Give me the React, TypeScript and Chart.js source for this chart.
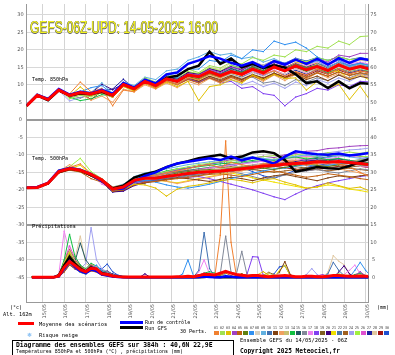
import React, { useEffect, useRef } from 'react';
import { Chart, registerables } from 'chart.js';
Chart.register(...registerables);

// ---------- time axis ----------
const HOURS_T = [0,12,24,36,48,60,72,84,96,108,120,132,144,156,168,180,192,204,216,228,240,252,264,276,288,300,312,324,336,348,360,372,384];
const HOURS_P = [6,12,18,24,30,36,42,48,54,60,66,72,78,84,90,96,102,108,114,120,126,132,138,144,150,156,162,168,174,180,186,192,198,204,210,216,222,228,234,240,246,252,258,264,270,276,282,288,294,300,306,312,318,324,330,336,342,348,354,360,366,372,378,384];
const DAY_HOURS = [18,42,66,90,114,138,162,186,210,234,258,282,306,330,354,378];
const DAY_LABELS = ['15/05','16/05','17/05','18/05','19/05','20/05','21/05','22/05','23/05','24/05','25/05','26/05','27/05','28/05','29/05','30/05'];
const LEFT_TICKS = [30,25,20,15,10,5,0,-5,-10,-15,-20,-25,-30,-35,-40,-45];
const RIGHT_TICKS = [75,70,65,60,55,50,45,40,35,30,25,20,15,10,5,0];

// ---------- 850 hPa ----------
const MEAN_850 = [4.0,7.0,5.8,8.5,7.0,7.8,7.4,8.3,7.0,10.1,8.9,11.0,9.8,11.7,11.0,12.8,12.3,13.8,12.6,13.8,13.0,14.5,13.4,15.1,14.0,15.4,14.3,15.2,14.1,15.7,14.5,15.2,14.4];
const CTRL_850 = [4.0,7.2,6.0,8.8,7.2,8.0,7.6,8.6,7.4,10.5,9.2,11.5,10.4,13.0,13.5,16.0,17.0,18.2,17.5,16.3,15.5,16.5,15.0,16.8,15.8,17.2,16.0,17.4,15.8,17.6,16.3,17.5,17.0];
const GFS_850 = [4.0,7.0,5.6,8.4,7.0,7.6,7.4,8.0,7.0,10.3,9.0,11.2,10.0,12.0,12.6,14.5,15.5,19.5,16.0,17.5,15.0,16.0,14.8,15.5,15.0,13.0,10.5,11.0,9.1,11.0,9.0,10.5,10.3];
const PERTS_850 = [
  [4.0,7.2,6.0,8.8,7.4,10.8,8.0,9.0,4.0,8.5,8.0,10.5,9.0,11.0,10.2,12.0,11.5,13.0,12.0,13.5,12.8,14.2,13.0,14.0,12.5,13.8,12.8,14.5,13.0,14.6,13.2,14.0,13.5],
  [4.1,7.3,6.2,8.9,6.0,7.0,6.6,7.8,7.3,10.6,9.4,12.0,10.8,13.0,12.5,14.5,13.5,15.5,14.8,16.5,16.0,17.8,17.0,18.5,18.0,20.0,19.5,21.0,20.5,22.5,21.5,23.8,24.0],
  [3.9,6.8,5.7,8.3,6.8,9.4,7.0,8.0,6.5,9.5,8.2,10.4,9.0,10.8,9.5,11.0,5.5,9.5,10.0,11.5,10.5,12.8,11.5,13.0,11.8,12.0,8.5,11.0,9.0,10.2,5.8,9.6,5.2],
  [4.0,7.1,5.9,8.6,7.1,7.9,7.5,8.5,7.2,10.3,9.0,11.2,10.0,12.0,11.3,13.2,12.8,14.4,13.5,15.0,14.5,16.0,15.0,16.5,15.5,17.0,16.2,17.5,16.5,18.5,18.0,19.0,19.0],
  [4.0,6.9,5.6,8.2,6.6,7.3,6.9,7.7,6.4,9.6,8.4,10.4,9.2,11.0,10.0,11.5,10.5,12.0,10.8,12.2,11.0,12.5,11.4,13.0,11.8,13.2,12.0,13.4,12.5,13.6,12.8,13.5,13.0],
  [4.1,7.0,5.7,8.4,6.9,7.6,7.2,8.1,6.8,10.0,8.8,10.8,9.6,11.4,10.8,12.4,11.6,13.2,12.2,14.0,13.5,15.2,14.0,15.8,14.8,16.0,15.0,15.5,14.2,15.8,14.6,15.0,14.2],
  [4.0,7.1,6.0,8.7,7.2,8.0,9.2,9.8,7.4,10.4,9.2,11.6,10.5,12.8,12.0,14.5,14.5,17.0,16.5,18.5,17.5,20.0,19.5,22.5,21.5,22.2,20.5,18.0,16.0,17.0,15.5,16.2,15.4],
  [4.0,6.9,5.8,8.4,6.9,7.6,7.2,8.2,6.9,9.9,8.7,10.7,9.5,11.3,10.5,12.2,11.5,12.8,11.8,13.0,12.0,13.6,12.4,14.0,13.0,14.5,13.5,14.8,13.8,15.0,14.0,14.6,14.0],
  [4.0,7.0,5.9,8.6,7.3,8.2,7.8,10.6,7.6,10.8,9.8,12.2,11.5,14.0,14.5,17.0,18.0,19.5,18.5,19.0,17.5,18.0,16.5,17.5,16.0,17.2,15.8,16.8,15.0,16.5,15.2,16.0,15.5],
  [4.1,7.2,6.1,8.7,7.0,7.7,7.3,8.2,6.9,10.0,8.8,11.2,10.1,12.0,11.2,13.0,12.0,13.5,12.5,14.2,13.0,14.8,13.6,15.5,14.4,15.8,14.8,15.6,14.4,16.0,14.8,15.5,15.0],
  [4.0,6.8,5.6,8.2,6.7,7.4,7.0,7.9,6.6,9.7,8.5,10.5,9.3,11.2,10.4,12.0,11.0,12.5,11.5,12.8,11.6,13.0,12.0,13.4,12.2,13.0,11.5,12.5,11.2,12.8,11.5,12.4,11.8],
  [3.9,6.9,5.7,8.3,6.8,7.4,5.6,6.8,5.0,8.8,8.0,10.0,8.8,10.5,9.2,11.0,10.0,11.8,10.5,12.0,10.8,12.5,11.0,12.8,11.2,13.0,11.6,13.4,12.0,13.2,11.8,13.0,12.2],
  [4.0,7.1,6.0,8.6,7.1,7.9,7.5,8.4,7.1,10.2,9.0,11.1,9.9,11.8,11.0,12.6,11.8,13.5,12.6,14.0,13.2,14.8,13.8,15.4,14.5,15.8,14.8,16.0,14.6,16.2,15.0,15.8,15.2],
  [4.0,7.0,5.8,8.4,6.5,5.5,6.0,7.2,6.8,9.8,8.6,10.6,9.4,11.2,10.5,12.3,11.7,13.4,12.4,13.8,12.8,14.4,13.2,14.9,13.8,15.2,14.0,14.8,13.6,15.0,14.0,14.6,13.8],
  [4.0,7.0,5.8,8.5,7.0,7.8,7.4,8.3,7.0,10.1,8.9,11.1,9.9,11.9,11.2,13.0,12.5,14.0,13.0,14.6,13.6,15.0,14.0,15.2,14.2,15.5,14.5,15.4,14.2,15.6,14.6,15.2,14.6],
  [4.0,7.1,5.9,8.5,7.1,6.2,7.3,8.2,7.0,10.0,8.8,10.9,9.7,11.5,10.7,12.4,11.6,13.0,12.0,13.2,11.8,12.2,10.5,11.0,9.8,11.5,10.8,12.0,11.2,12.8,12.0,13.2,12.6],
  [4.0,6.9,5.8,8.4,7.0,7.7,7.3,8.1,6.9,10.0,8.8,10.9,9.8,11.6,10.9,12.6,12.0,13.6,12.8,14.3,13.4,15.0,14.0,15.6,14.8,16.2,15.3,16.6,15.6,17.0,16.0,16.5,15.8],
  [4.0,7.0,5.8,8.5,7.0,7.8,7.4,8.3,7.0,10.1,8.8,10.8,9.6,11.2,10.2,11.8,10.8,12.0,10.5,11.0,9.0,9.5,7.5,7.0,4.0,6.5,7.5,9.0,8.5,10.0,9.5,11.0,10.8],
  [4.0,7.0,5.9,8.5,7.1,7.9,7.5,8.4,7.1,10.2,9.0,11.2,10.0,12.0,11.4,13.0,12.2,13.8,12.8,14.2,13.2,14.8,13.6,15.0,14.0,15.0,13.8,14.6,13.5,14.8,13.8,14.5,13.8],
  [4.0,7.1,6.0,8.6,7.2,8.0,7.6,10.2,8.6,10.3,9.1,11.3,10.2,12.2,11.6,13.5,13.0,14.6,13.8,15.2,14.2,15.8,14.8,16.0,15.0,16.2,15.2,16.0,14.8,16.4,15.2,15.8,15.0],
  [4.0,7.0,5.8,8.5,7.0,7.8,7.4,8.3,7.0,10.0,8.8,10.8,9.6,11.5,10.6,12.2,11.4,12.8,11.8,13.4,12.6,14.5,13.8,15.5,14.8,16.5,15.8,16.2,13.5,14.0,11.5,13.0,11.0],
  [4.0,7.1,5.9,8.6,7.1,7.9,7.5,8.4,7.1,10.2,9.0,11.2,10.0,12.0,11.2,13.0,12.4,14.2,13.2,14.8,13.8,15.4,14.4,15.8,14.8,16.0,15.0,16.2,15.2,16.5,15.6,16.2,15.6],
  [4.0,6.9,5.7,8.3,6.8,7.5,7.1,8.0,6.7,9.8,8.6,10.7,9.5,11.3,10.4,12.0,11.0,12.4,11.2,12.6,11.4,12.8,11.6,13.0,11.8,13.4,12.2,13.6,12.4,13.8,12.6,13.4,12.6],
  [4.0,7.0,5.8,8.4,5.4,6.4,7.3,8.2,6.9,10.0,8.7,10.8,9.6,11.4,10.6,12.2,11.3,12.6,11.0,11.5,10.0,11.0,9.5,10.5,9.0,10.8,9.8,11.5,10.5,12.0,11.0,12.6,12.0],
  [4.0,7.1,6.0,8.7,7.2,8.1,7.7,8.6,7.3,10.4,9.2,11.5,10.4,12.4,11.8,13.8,13.2,15.0,14.0,15.6,14.6,16.2,15.0,16.8,15.8,17.4,16.6,17.8,17.0,18.0,17.2,17.6,17.0],
  [4.0,7.0,5.9,8.5,7.0,7.8,7.4,8.3,7.0,10.1,8.9,11.0,9.8,11.7,10.9,12.6,11.9,13.4,12.4,13.6,12.6,14.0,12.8,14.2,13.0,14.6,13.4,15.0,13.8,15.4,14.2,15.0,14.0],
  [4.0,7.0,5.8,8.5,7.0,7.8,7.4,8.3,8.8,11.6,8.9,11.0,9.7,11.6,10.8,12.5,11.8,13.0,12.0,13.0,12.2,13.6,12.6,14.0,12.8,14.2,13.0,14.4,13.2,14.5,13.4,14.2,13.6],
  [4.0,7.0,5.9,8.6,7.1,8.0,7.6,8.5,7.2,10.2,9.0,11.4,10.3,12.4,11.8,13.6,13.0,15.0,14.4,16.2,15.2,16.6,15.6,17.0,16.0,17.4,16.4,17.2,16.0,17.4,16.4,17.0,16.6],
  [4.0,7.0,5.8,8.5,7.0,7.8,5.8,8.2,6.9,10.0,8.8,10.9,9.6,11.2,10.2,11.6,10.8,12.0,11.0,12.4,11.4,12.8,11.8,13.2,12.2,13.6,12.6,14.0,13.0,14.2,13.2,14.0,13.4],
  [4.0,7.1,6.0,8.6,7.2,8.0,7.6,8.5,7.2,10.3,9.1,11.4,10.3,12.2,11.6,13.4,12.8,14.6,13.8,15.6,14.8,16.4,15.6,17.0,16.2,17.6,16.8,17.8,17.0,18.0,17.2,17.8,17.2],
];

// ---------- 500 hPa ----------
const MEAN_500 = [-19.4,-19.3,-18.1,-14.8,-13.9,-14.4,-15.6,-17.2,-19.8,-19.2,-17.3,-16.7,-16.7,-16.2,-15.8,-15.3,-15.0,-14.8,-14.6,-14.3,-14.0,-13.6,-13.2,-13.0,-12.7,-12.5,-12.3,-12.0,-12.1,-11.9,-12.2,-12.5,-12.8];
const CTRL_500 = [-19.4,-19.2,-18.0,-14.5,-13.8,-14.3,-15.5,-17.5,-19.8,-19.6,-17.5,-16.0,-15.0,-13.5,-12.5,-12.0,-11.5,-11.0,-11.5,-10.5,-11.5,-10.8,-11.5,-12.5,-10.5,-9.0,-9.5,-9.8,-10.0,-9.6,-10.2,-9.8,-9.4];
const GFS_500 = [-19.4,-19.3,-18.2,-14.9,-14.0,-14.5,-15.8,-17.3,-19.6,-18.8,-16.5,-15.5,-14.8,-13.5,-12.5,-11.8,-11.0,-10.5,-10.0,-11.0,-10.5,-9.3,-9.0,-9.5,-11.5,-14.8,-14.2,-13.5,-13.8,-14.0,-13.2,-12.0,-11.0];
const PERTS_500 = [
  [-19.4,-19.2,-18.0,-14.6,-13.6,-12.6,-15.3,-16.8,-19.2,-18.6,-16.4,-15.8,-16.0,-15.2,-14.6,-14.0,-13.2,-12.8,-13.6,-12.2,-12.8,-13.4,-12.6,-12.0,-11.4,-12.2,-13.0,-12.4,-11.8,-12.6,-13.4,-15.0,-16.5],
  [-19.4,-19.3,-18.1,-14.9,-13.8,-14.2,-15.4,-17.0,-19.6,-18.9,-16.8,-16.0,-15.4,-14.8,-14.0,-13.4,-12.8,-12.4,-12.0,-11.8,-11.2,-10.8,-10.5,-10.2,-10.6,-10.0,-9.6,-10.0,-9.4,-9.8,-9.2,-9.6,-9.0],
  [-19.4,-19.3,-18.2,-15.0,-14.2,-14.8,-16.0,-17.6,-20.2,-19.8,-18.4,-18.6,-19.5,-21.8,-19.8,-19.0,-18.6,-18.0,-17.4,-17.0,-17.4,-18.0,-17.2,-16.8,-17.8,-18.6,-19.5,-19.2,-18.0,-18.8,-19.6,-19.2,-20.5],
  [-19.4,-19.2,-18.0,-14.6,-13.7,-14.2,-15.4,-17.2,-19.7,-19.0,-17.0,-16.2,-15.6,-15.0,-14.4,-13.8,-13.2,-12.6,-12.0,-11.4,-11.8,-11.0,-10.4,-10.8,-10.0,-9.6,-9.0,-8.8,-8.2,-8.0,-7.6,-7.4,-7.3],
  [-19.4,-19.4,-18.3,-15.2,-14.4,-14.9,-16.8,-17.8,-20.4,-20.0,-18.6,-17.8,-17.6,-17.2,-16.8,-16.4,-16.0,-15.6,-15.4,-15.8,-16.2,-15.6,-15.0,-14.6,-15.2,-15.8,-16.4,-16.0,-15.4,-15.8,-16.2,-16.8,-17.2],
  [-19.4,-19.3,-18.1,-14.8,-13.9,-14.3,-15.5,-17.1,-19.7,-19.0,-17.2,-16.6,-16.4,-15.8,-15.2,-14.8,-14.4,-14.2,-14.6,-14.0,-13.6,-13.2,-13.8,-14.2,-13.6,-13.0,-12.6,-13.0,-13.4,-12.8,-12.4,-12.8,-13.2],
  [-19.4,-19.2,-18.0,-14.7,-13.8,-14.4,-15.7,-17.4,-20.0,-19.4,-17.6,-17.2,-17.8,-18.6,-19.2,-19.5,-19.0,-18.4,-17.6,-16.8,-16.0,-15.2,-14.6,-14.0,-13.8,-13.2,-12.8,-13.4,-13.0,-12.6,-12.2,-12.8,-13.0],
  [-19.4,-19.3,-18.2,-15.0,-14.0,-14.6,-15.8,-17.4,-19.9,-19.4,-17.6,-17.0,-16.8,-16.4,-16.0,-15.4,-15.2,-14.6,-14.4,-14.0,-13.8,-13.0,-12.6,-12.8,-13.2,-13.6,-13.0,-12.4,-12.6,-12.2,-12.8,-13.2,-13.0],
  [-19.4,-19.2,-18.0,-14.5,-13.6,-14.0,-15.2,-16.8,-19.2,-18.4,-16.2,-15.2,-14.6,-14.0,-13.4,-12.8,-12.4,-12.0,-11.6,-11.2,-10.8,-10.6,-11.0,-11.4,-10.8,-10.4,-10.0,-10.4,-10.8,-10.2,-10.6,-11.0,-10.8],
  [-19.4,-19.3,-18.1,-14.8,-13.9,-14.5,-15.8,-17.5,-20.2,-19.6,-17.8,-17.4,-17.2,-16.6,-16.0,-15.6,-15.2,-14.8,-14.6,-14.2,-13.8,-13.6,-13.2,-13.0,-12.8,-12.6,-12.4,-12.0,-12.2,-12.0,-11.8,-12.2,-12.6],
  [-19.4,-19.4,-18.2,-15.1,-14.2,-14.7,-16.0,-17.7,-20.4,-20.0,-18.6,-18.0,-17.6,-17.0,-16.6,-16.8,-17.2,-17.6,-17.0,-16.4,-16.8,-17.4,-16.6,-16.0,-15.6,-16.2,-16.8,-17.4,-16.6,-16.0,-16.4,-16.0,-15.6],
  [-19.4,-19.2,-18.0,-14.7,-12.8,-14.3,-15.5,-17.1,-19.6,-19.0,-17.0,-16.8,-17.0,-17.6,-18.2,-17.6,-17.0,-16.4,-15.8,-15.2,-14.6,-13.6,-13.0,-12.4,-12.0,-11.6,-12.2,-12.8,-13.4,-14.0,-14.6,-15.2,-16.0],
  [-19.4,-19.3,-18.1,-14.8,-13.8,-14.3,-15.6,-17.2,-19.8,-19.2,-17.4,-16.8,-16.6,-16.0,-15.6,-15.2,-14.8,-14.4,-14.0,-13.6,-13.2,-13.8,-13.2,-12.8,-12.4,-12.8,-12.2,-11.8,-12.2,-11.6,-12.0,-11.4,-11.8],
  [-19.4,-19.2,-18.0,-14.6,-13.6,-14.1,-15.3,-16.9,-19.5,-18.8,-16.6,-15.8,-15.4,-14.6,-14.0,-13.8,-13.4,-13.0,-12.6,-12.2,-12.0,-11.6,-11.2,-11.6,-11.0,-10.6,-11.2,-10.8,-11.4,-11.0,-11.6,-12.0,-12.4],
  [-19.4,-19.3,-18.1,-14.9,-14.0,-14.5,-15.7,-17.3,-19.9,-19.3,-17.5,-17.0,-16.8,-16.2,-15.8,-15.4,-15.0,-14.8,-14.4,-14.2,-13.8,-13.4,-13.0,-12.8,-12.6,-12.2,-12.0,-11.8,-11.6,-11.8,-12.0,-12.4,-12.8],
  [-19.4,-19.3,-18.2,-15.0,-14.1,-14.6,-15.9,-17.6,-20.1,-19.6,-17.8,-17.2,-17.0,-16.8,-16.4,-16.0,-15.6,-15.0,-14.6,-14.8,-15.4,-16.2,-17.0,-16.4,-15.8,-15.0,-14.6,-14.2,-14.8,-15.2,-14.6,-14.0,-14.4],
  [-19.4,-19.2,-18.0,-14.7,-13.7,-14.2,-15.4,-18.4,-19.6,-19.0,-17.2,-16.6,-16.2,-15.6,-15.2,-14.8,-14.2,-13.8,-13.4,-13.0,-12.6,-12.2,-11.8,-11.4,-11.0,-10.8,-10.4,-10.8,-11.2,-10.6,-10.2,-10.8,-11.4],
  [-19.4,-19.3,-18.1,-14.8,-13.9,-14.5,-15.8,-17.6,-20.3,-19.8,-18.0,-17.6,-17.4,-17.0,-16.6,-16.4,-16.2,-16.8,-17.6,-18.4,-19.2,-20.0,-21.0,-22.0,-22.8,-21.2,-19.8,-18.8,-18.0,-17.4,-16.8,-16.2,-15.8],
  [-19.4,-19.4,-18.2,-15.0,-14.0,-14.6,-15.9,-17.4,-20.0,-19.4,-17.4,-16.6,-16.2,-15.6,-15.0,-14.6,-14.2,-13.8,-13.6,-13.4,-13.8,-14.2,-13.8,-13.4,-13.0,-13.4,-13.8,-13.2,-12.8,-13.2,-13.6,-13.0,-12.6],
  [-19.4,-19.3,-18.1,-14.9,-14.0,-14.6,-16.0,-17.8,-20.6,-20.4,-18.8,-18.0,-17.2,-16.4,-15.8,-15.4,-15.0,-14.6,-14.2,-13.8,-13.4,-13.0,-12.6,-12.4,-12.2,-12.0,-11.8,-11.6,-11.4,-11.2,-11.6,-12.0,-12.2],
  [-19.4,-19.2,-18.0,-14.8,-13.9,-13.0,-15.6,-17.2,-19.8,-19.2,-17.4,-17.0,-17.2,-17.6,-18.0,-17.4,-16.8,-16.2,-15.6,-15.2,-15.8,-16.6,-17.2,-17.8,-18.4,-19.0,-19.6,-19.2,-18.6,-19.0,-19.8,-20.2,-20.8],
  [-19.4,-19.3,-18.1,-14.8,-13.9,-14.4,-15.6,-17.2,-19.8,-19.2,-17.2,-16.4,-16.0,-15.4,-14.8,-14.4,-14.0,-13.6,-13.2,-12.8,-12.4,-12.0,-11.8,-12.2,-12.6,-12.2,-11.8,-11.4,-11.8,-12.2,-11.8,-11.4,-11.0],
  [-19.4,-19.3,-18.2,-15.0,-14.1,-14.7,-16.0,-17.6,-20.2,-19.6,-17.8,-17.4,-17.2,-16.8,-16.4,-16.0,-15.8,-15.4,-15.0,-14.8,-14.4,-14.2,-14.6,-15.0,-14.6,-14.2,-13.8,-14.2,-14.6,-14.2,-13.8,-14.2,-14.6],
  [-19.4,-19.2,-18.0,-14.6,-13.7,-14.2,-15.4,-17.0,-19.5,-18.9,-17.0,-16.4,-16.0,-15.4,-15.0,-14.6,-14.2,-13.8,-13.4,-13.0,-12.6,-12.2,-11.8,-11.4,-11.0,-10.6,-10.2,-9.8,-9.4,-9.0,-8.6,-8.4,-8.0],
  [-19.4,-19.3,-18.0,-14.4,-13.4,-11.0,-14.8,-16.8,-19.4,-18.8,-16.8,-16.2,-15.8,-15.2,-14.8,-14.4,-14.0,-13.6,-13.2,-12.8,-12.4,-12.0,-11.6,-11.2,-11.0,-10.8,-10.6,-10.4,-10.2,-10.0,-10.2,-10.4,-10.6],
  [-19.4,-19.3,-18.1,-14.8,-13.9,-14.4,-15.7,-17.4,-20.0,-19.4,-17.6,-17.0,-16.8,-16.4,-16.0,-15.6,-15.2,-14.8,-14.4,-14.0,-13.6,-13.2,-12.8,-12.4,-12.0,-11.6,-11.2,-11.6,-12.0,-12.4,-12.8,-13.2,-13.6],
  [-19.4,-19.4,-18.3,-15.1,-14.3,-14.8,-16.1,-17.8,-20.6,-20.2,-18.4,-17.8,-17.4,-16.8,-16.2,-15.8,-15.4,-15.0,-14.6,-14.2,-13.8,-13.4,-13.0,-12.6,-12.2,-11.8,-11.4,-11.0,-10.6,-10.2,-10.0,-10.4,-10.8],
  [-19.4,-19.3,-18.1,-14.8,-13.8,-14.3,-15.5,-17.1,-19.7,-19.1,-17.3,-16.7,-16.5,-16.0,-15.6,-15.2,-14.8,-14.4,-14.0,-13.6,-13.2,-12.8,-12.4,-12.0,-11.6,-11.2,-10.8,-11.2,-11.6,-12.0,-12.4,-12.8,-13.2],
  [-19.4,-19.3,-18.2,-15.0,-14.0,-14.5,-15.8,-17.5,-20.1,-19.5,-17.7,-17.1,-16.9,-16.5,-16.1,-15.7,-15.3,-14.9,-14.5,-14.1,-13.7,-13.3,-12.9,-13.3,-13.7,-14.1,-14.5,-14.1,-13.7,-13.3,-12.9,-13.3,-13.7],
  [-19.4,-19.2,-18.0,-14.6,-13.6,-14.2,-15.4,-17.0,-19.6,-19.0,-17.0,-16.2,-15.6,-15.0,-14.4,-13.8,-13.2,-12.6,-12.2,-12.8,-13.6,-14.8,-16.0,-16.7,-15.6,-14.4,-13.6,-13.0,-12.6,-12.2,-11.8,-11.6,-11.4],
];

// ---------- precipitation (mm, 6 h) ----------
const MEAN_PCP = [0,0,0,0,0,0.4,2.8,4.5,3.4,2.2,1.6,2.6,2.4,1.0,0.8,0.4,0.2,0.1,0.1,0.1,0.1,0.1,0.1,0.1,0.1,0.1,0.1,0.2,0.2,0.3,0.2,0.5,0.9,0.8,0.7,1.2,1.7,1.2,0.8,0.6,0.4,0.5,0.5,0.3,0.2,0.3,0.4,0.5,0.4,0.2,0.2,0.3,0.3,0.2,0.2,0.3,0.5,0.5,0.4,0.3,0.3,0.4,0.3,0.2];
const CTRL_PCP = [0,0,0,0,0,0.3,2.4,4.6,3.0,1.8,1.2,2.2,1.8,0.8,0.5,0.2,0.1,0,0,0,0,0,0,0,0,0,0,0,0,0,0,0.1,0.2,0.1,0,0,0.3,0.2,0,0,0,0,0,0,0,0,0,0,0,0,0,0,0,0,0,0,0,0,0,0,0,0,0,0];
const GFS_PCP = [0,0,0,0,0,0.6,3.4,5.8,3.8,2.4,1.6,2.8,2.2,1.2,0.9,0.4,0.2,0.1,0,0,0,0,0,0,0,0,0,0,0,0,0,0,0.1,0.2,0.1,0,0,0,0,0,0,0,0,0,0,0,0,0,0,0,0,0,0,0,0,0,0,0,0,0,0,0,0,0];
const PERTS_PCP = [
  [0,0,0,0,0,0.5,3.0,6.0,4.0,2.0,1.2,2.0,1.5,0.8,0.5,0.2,0.1,0,0,0,0,0,0,0,0,0,0,0,0,0,0,0.2,0.3,0.2,0.5,12,39,10,0.3,0,0,0,0,0,0,0,0,0.2,0.2,0,0,0,0,0,0,0,0,0,0,0,0,0,0,0],
  [0,0,0,0,0,0.2,2.0,4.5,3.0,1.5,1.0,2.5,2.0,1.0,0.6,0.3,0,0,0,0,0,0,0,0,0,0,0,0,0,0,0,0.4,0.6,0.3,0,0,0,0,0,0,0.5,0.8,0.3,0,0,0,0,0,0,0,0,0,0,0,0,0,0.5,1.0,0.6,0.3,0,0,0,0],
  [0,0,0,0,0,0.8,4.0,7.0,3.5,2.2,1.5,3.0,2.2,1.2,1.0,0.4,0.2,0,0,0,0,0,0,0,0,0,0,0,0,0,0,0,0.3,0.8,0.5,0,0,0,0,0,0,0,0.8,1.6,0.6,0,0,0,0,0,0,0,0,0,0,0,0,0,0,0,0,0,0,0],
  [0,0,0,0,0,0.3,2.5,5.0,3.8,2.5,2.0,3.2,2.8,1.5,1.2,0.5,0.2,0.1,0,0,0,0,0,0,0,0,0,0,0,0,0,0.6,1.2,0.8,0.4,0,0,0,0,0,0,0,0,0,0,0,0,0,0,0,0,0,0,0.4,0.8,0.3,0,0,0,0,0.5,1.6,0.4,0],
  [0,0,0,0,0,0.1,1.5,3.5,2.5,1.8,1.2,1.8,1.5,0.6,0.4,0.2,0,0,0,0,0,0,0,0,0,0,0,0,0,0,0,0,0,0,0,0.6,1.2,0.5,0,0,0,0,0,0,0,0,0,0,0,0,0,0,0,0,0,0,0,0,0,0,0,0,0,0],
  [0,0,0,0,0,0.4,3.5,6.5,4.2,2.8,1.8,2.2,2.0,0.9,0.7,0.3,0.1,0,0,0,0,0,0,0,0,0,0,0,0,0,0,0.3,0.5,0.2,0,0,0,0,0.4,0.9,0.4,0,0,0,0,0,0,0,0,0,0,0,0,0,0,0,0,0,0,0,0,0,0,0],
  [0,0,0,0,0,0.2,2.2,4.0,2.8,1.6,1.0,2.6,3.5,1.8,1.0,0.5,0.3,0.1,0,0,0,0,0,0,0,0,0,0,1.0,5.0,0.5,0,0,0,0,0,0,0,0,0,0,0,0,0,0,0,0,0,0,0,0,0,0,0,0,0,0,0,0,0,2.0,4.3,2.0,0.3],
  [0,0,0,0,0,0.6,3.8,5.5,3.2,2.0,1.4,2.4,1.8,1.0,0.8,0.2,0,0,0,0,0,0,0,0,0,0,0,0,0,0,0,0.2,0.4,0.2,0,0,0,0,0,0,0,0,0,0,0,0.6,1.0,0.4,0,0,0,0,0,0,0,0,0,0,0,0,0,0,0,0],
  [0,0,0,0,0,0.3,2.8,4.8,3.6,2.4,1.6,2.8,2.4,1.4,1.1,0.6,0.2,0,0,0,0,0,0,0,0,0,0,0,0,0,0,0,0,0,0.8,1.4,0.6,0,0,0,0,0,0,0,0,0,0,0,0,0,0,0,0,0,0,0,0,0,0,0,0,0,0,0],
  [0,0,0,0,0,0.2,1.8,3.8,2.6,1.4,0.9,2.0,1.6,0.8,0.6,0.3,0.1,0,0,0,0,0,0,0,0,0,0,0,0,0,0,2.0,12.8,2.5,0.3,0,0,0,0,0,0,0,0,0,0,0,0,0,0,0,0,0,0,0,0,1.0,4.3,2.0,0.5,0,0,0,0,0],
  [0,0,0,0,0,0.5,3.2,6.2,4.4,3.0,2.0,3.4,2.6,1.2,0.9,0.4,0.1,0,0,0,0,0,0,0,0,0,0,0,0,0,0,0,0,0,0,0,0,0,0,0,0,0,0,0,0,0,1.5,4.5,0.8,0,0,0,0,0,0,0,0,0,0,0,0,0,0,0],
  [0,0,0,0,0,0.4,2.6,5.2,3.4,2.2,1.4,2.2,1.8,0.8,0.5,0.2,0,0,0,0,0,0,0,0,0,0,0,0,0,0,0,0,0.2,0.4,0.2,0,0,0,0,0,0,0,0,0,0,0,0,0,0,0,0,0,0,0,0,0,0,0,0,0,0,0,0,0],
  [0,0,0,0,0,0.7,4.2,7.5,4.8,3.0,2.2,3.6,3.0,1.6,1.2,0.6,0.2,0.1,0,0,0,0,0,0,0,0,0,0,0,0,0,0,0,0,0,0,0,0,0,0,0,0,0,0.5,1.2,0.5,0,0,0,0,0,0,0,0,0,0,0,0,0,0,0,0,0,0],
  [0,0,0,0,0,0.6,5.0,12.3,6.0,3.5,2.4,4.0,3.2,1.8,1.3,0.6,0.3,0.1,0,0,0,0,0,0,0,0,0,0,0,0,0,0.6,1.2,1.6,1.2,0.4,0,0,0,0,0,0,0,0,0,0,0,0,0,0,0,0,0,0,0,0,0,0,0,0,0.8,1.2,0.5,0],
  [0,0,0,0,0,0.3,3.0,6.8,4.5,9.8,5.0,3.0,2.5,1.4,1.0,0.5,0.2,0,0,0,0,0,0,0,0,0,0,0,0,0,0,0,0,0,0,0,0,0,0,0,0,0,0,0,0,0,0,0,0,0,0,0,0,0,0,0,0,0,0,0,0,0,0,0],
  [0,0,0,0,0,0.2,2.0,4.2,3.0,1.8,1.2,2.6,3.0,2.0,1.6,0.8,0.4,0.2,0,0,0,0,0,0,0,0,0,0,0,0,0,0,0,0,0,1.0,11.8,1.5,1.0,7.4,0.5,0,0,0,0,0,0,0,0,0,0,0,0,0,0,0,0,0,0,0,0,0,0,0],
  [0,0,0,0,0,0.8,13.2,7.0,4.0,2.6,1.8,3.0,2.4,1.2,0.9,0.4,0.1,0,0,0,0,0,0,0,0,0,0,0,0,0,0,1.5,5.0,1.0,0,0,0,0,0,0,0,0,0,0,0,0,0,0,0,0,0,0,0,0,0,0,0,0,0.8,2.0,3.5,1.0,0,0],
  [0,0,0,0,0,0.3,2.4,4.6,3.2,2.0,1.3,2.4,2.0,1.0,0.7,0.3,0.1,0,0,0,0,0,0,0,0,0,0,0,0,0,0,0,0,0,0,0,0,0,0,0,1.0,5.9,5.8,0.5,0,0,0,0,0,0,0,0,0,0,0,0,0,0,0,0,0,0,0,0],
  [0,0,0,0,0,0.4,3.4,6.0,4.0,2.6,1.8,2.8,2.2,1.1,0.8,0.3,0.1,0,0,0,0,0,0,0,0,0,0,0,0,0,0,0,0,0,0,0,0,0,0,0,0,0,0,0.6,1.4,0.8,0,0,0,0,0,0,0,0,0,0,0,0,0,0,0,0,0,0],
  [0,0,0,0,0,0.2,1.6,3.6,2.4,1.6,1.0,2.2,1.8,1.4,1.8,0.9,0.5,0.2,0,0,0,1.0,0,0,0,0,0,0,0,0,0,0,0,0,0,0,0,0,0,0,0,0,0,0,0,0,0,0,0,0,0,0,0,0,0,0,0,1.5,3.3,1.0,0,0,0,0],
  [0,0,0,0,0,0.5,3.6,6.4,4.2,2.8,1.9,3.0,2.4,1.2,0.9,0.4,0.1,0,0,0,0,0,0,0,0,0,0,0,0,0,0,0,0,0,0.5,0.8,0.3,0,0,0,0,0,0,0,0,0,2.0,3.4,0.5,0,0,0,0,0,0,0,0,0,0,0,0,0,0,0],
  [0,0,0,0,0,0.3,2.6,5.0,3.4,2.2,1.5,2.6,2.2,1.2,1.4,1.0,0.4,0.1,0,0,0,0,0,0,0,0,0,0,0,0,0,0,0.3,0.5,0.3,0,0,0,0,0,0,0,0,0,0,0,0,0,0,0,0,0,0,0,0,0,0,0,0,0,0,0,0,0],
  [0,0,0,0,0,0.6,4.4,8.0,5.0,3.2,2.2,3.4,2.6,1.4,1.0,0.5,0.2,0,0,0,0,0,0,0,0,0,0,0,0,0,0,0,0,0,0,0,0,0,0.5,1.0,0.4,0,0,0,0,0,0,0,0,0,0,0,0,0,0,0,0,0,0,0,0,0,0,0],
  [0,0,0,0,0,0.2,2.2,4.4,3.0,2.4,4.0,14.2,5.0,2.4,1.6,0.6,0.2,0,0,0,0,0,0,0,0,0,0,0,0,0,0,0,0,0,0,0,0,0,0,0,0,0,0,0,0,0,0,0,0,0,0,0.8,2.5,0.8,0,0,0,0,0,0,0,0,0,0],
  [0,0,0,0,0,0.4,3.0,5.6,3.8,2.4,1.6,2.6,2.0,1.0,0.7,0.3,0.1,0,0,0,0,0,0,0,0,0,0,0,0,0,0,0,0,0,0,0,0,0,0,0,0,0,0,0,0,0,0,0,0,0,0,0,0,0,0,0,0,0,0,0,0.6,1.0,0.4,0],
  [0,0,0,0,0,0.7,4.6,9.0,5.4,3.4,2.4,3.8,2.8,1.5,1.1,0.5,0.2,0,0,0,0,0,0,0,0,0,0,0,0,0,0,0,0.6,1.2,0.4,0,0,0,0,0,0,0,0,0,0,0,0,0,0,0,0,0,0,0,0,0,0,0,0,0,0,0,0,0],
  [0,0,0,0,0,0.3,2.8,5.4,3.6,2.4,1.6,2.6,2.2,1.2,0.8,0.4,0.1,0,0,0,0,0,0,0,0,0,0,0,0,0,0,0,0,0,0,0,0,0,0,0,0,0,0,0,0,0,0,0,0,0,0,0,0,0,0,0,0,0,0,0,0,0,0,0],
  [0,0,0,0,0,0.4,3.2,6.0,5.5,11.8,4.0,3.0,2.4,1.2,0.9,0.4,0.1,0,0,0,0,0,0,0,0,0,0,0,0,0,0,0,0,0,0,0,0,0,0,0,0,0,0,0,0,0,0,0,0,0,0,0,0,0,0,1.5,6.2,4.6,3.6,1.0,0,0,0,0],
  [0,0,0,0,0,0.5,3.8,6.6,4.2,2.8,1.8,2.8,2.2,1.1,0.8,0.3,0.1,0,0,0,0,0,0,0,0,0,0,0,0,0,0,0,0,0,0,0,0,0,0,0,0,0,0,0,0,0,0,0,0,0,0,0,0,0,0,0,0,0,0,0,0,0,0,0],
  [0,0,0,0,0,0.3,2.4,4.8,3.2,2.0,1.4,2.4,2.8,2.4,3.8,1.6,0.6,0.2,0,0,0,0,0,0,0,0,0,0,0,0,0,0,0,0,0,0,0,0,0,0,0,0,0,0,0,1.0,3.0,3.3,0.5,0,0,0,0,0,0,0,0,0,0,0,0,0,0,0],
];

const PERT_COLORS = ['#f08030','#a0e050','#e0c000','#a040c0','#c06010','#608010','#3090f0','#d8d0c0','#60b0e0','#4070b0','#804010','#f0a060','#c8c070','#10c040','#205860','#808898','#f080f0','#8040f0','#806020','#400080','#f0e000','#4a78a8','#a06020','#a0a0f0','#a0f040','#e050d0','#2020a0','#e0c8a0','#a01010','#2050d0'];
const PERT_NUMS = ['01','02','03','04','05','06','07','08','09','10','11','12','13','14','15','16','17','18','19','20','21','22','23','24','25','26','27','28','29','30'];

const pts = (hrs: number[], vals: number[]) => vals.map((v, i) => ({ x: hrs[i], y: v }));

function Txt({ x, y, s, t, b, c, f }: any) {
  const base = 20;
  return (
    <div style={{ position: 'absolute', left: x, top: y - base / 2, fontFamily: f || '"DejaVu Sans Mono", monospace', fontSize: base, lineHeight: base + 'px', fontWeight: b ? 'bold' : 'normal', color: c || '#000', whiteSpace: 'pre', transform: `scale(${s / base})`, transformOrigin: '0 50%' }}>{t}</div>
  );
}

export default function App() {
  const ref = useRef<HTMLCanvasElement>(null);
  useEffect(() => {
    if (!ref.current) return;
    const datasets: any[] = [];
    const thick = (label: string, hrs: number[], vals: number[], color: string, w: number, order: number, axis: string) => ({
      label, data: pts(hrs, vals), borderColor: color, backgroundColor: color, borderWidth: w, pointRadius: 0, tension: 0, order, yAxisID: axis,
    });
    datasets.push(thick('mean850', HOURS_T, MEAN_850, '#ff0000', 3, 0, 'y'));
    datasets.push(thick('mean500', HOURS_T, MEAN_500, '#ff0000', 3, 0, 'y'));
    datasets.push(thick('meanP', HOURS_P, MEAN_PCP, '#ff0000', 3, 0, 'y2'));
    datasets.push(thick('ctrl850', HOURS_T, CTRL_850, '#0000ff', 2.5, 1, 'y'));
    datasets.push(thick('ctrl500', HOURS_T, CTRL_500, '#0000ff', 2.5, 1, 'y'));
    datasets.push(thick('ctrlP', HOURS_P, CTRL_PCP, '#0000ff', 2.5, 1, 'y2'));
    datasets.push(thick('gfs850', HOURS_T, GFS_850, '#000000', 2.5, 2, 'y'));
    datasets.push(thick('gfs500', HOURS_T, GFS_500, '#000000', 2.5, 2, 'y'));
    datasets.push(thick('gfsP', HOURS_P, GFS_PCP, '#000000', 2.5, 2, 'y2'));
    const pert = (label: string, hrs: number[], vals: number[], color: string, axis: string) => ({
      label, data: pts(hrs, vals), borderColor: color, backgroundColor: color, borderWidth: 1, pointRadius: 0.9, pointStyle: 'rect', pointBorderWidth: 0, tension: 0, order: 10, yAxisID: axis,
    });
    PERTS_850.forEach((v, i) => datasets.push(pert('p850_' + i, HOURS_T, v, PERT_COLORS[i], 'y')));
    PERTS_500.forEach((v, i) => datasets.push(pert('p500_' + i, HOURS_T, v, PERT_COLORS[i], 'y')));
    PERTS_PCP.forEach((v, i) => datasets.push(pert('pP_' + i, HOURS_P, v, PERT_COLORS[i], 'y2')));

    const tickFont = { family: '"DejaVu Sans", sans-serif', size: 5 };
    const chart = new Chart(ref.current, {
      type: 'line',
      data: { datasets },
      options: {
        animation: false,
        responsive: false,
        devicePixelRatio: 1,
        events: [],
        layout: { padding: 0 },
        plugins: { legend: { display: false }, tooltip: { enabled: false }, title: { display: false } },
        scales: {
          x: {
            type: 'linear', min: 0, max: 381,
            afterBuildTicks: (s: any) => { s.ticks = DAY_HOURS.map((v) => ({ value: v })); },
            afterFit: (s: any) => { s.height = 53; s.paddingLeft = 0; s.paddingRight = 0; s.paddingTop = 0; s.paddingBottom = 0; },
            ticks: { autoSkip: false, minRotation: 90, maxRotation: 90, padding: 2, labelOffset: 2, color: '#555', font: tickFont, callback: (_v: any, i: number) => DAY_LABELS[i] },
            grid: { color: '#d4d4d4', lineWidth: 1, drawTicks: false },
            border: { display: true, color: '#999', width: 1 },
          },
          y: {
            type: 'linear', position: 'left', min: -52.05, max: 33.1,
            afterBuildTicks: (s: any) => { s.ticks = LEFT_TICKS.map((v) => ({ value: v })); },
            afterFit: (s: any) => { s.width = 26.5; s.paddingTop = 0; s.paddingBottom = 0; },
            ticks: { autoSkip: false, padding: 2, crossAlign: 'center', color: '#555', font: tickFont },
            grid: {
              drawTicks: false,
              color: (c: any) => (c.tick && (c.tick.value === 0 || c.tick.value === -30) ? '#9a9a9a' : '#d8d8d8'),
              lineWidth: (c: any) => (c.tick && (c.tick.value === 0 || c.tick.value === -30) ? 2 : 1),
            },
            border: { display: true, color: '#999', width: 1 },
          },
          y2: {
            type: 'linear', position: 'right', min: -7.05, max: 78.1,
            afterBuildTicks: (s: any) => { s.ticks = RIGHT_TICKS.map((v) => ({ value: v })); },
            afterFit: (s: any) => { s.width = 26.7; s.paddingTop = 0; s.paddingBottom = 0; },
            ticks: { autoSkip: false, padding: 2, crossAlign: 'center', color: '#555', font: tickFont },
            grid: { display: false, drawTicks: false },
            border: { display: true, color: '#999', width: 1 },
          },
        },
      } as any,
    });
    return () => chart.destroy();
  }, []);

  const outline = '-0.5px 0 #666, 0.5px 0 #666, 0 -0.5px #666, 0 0.5px #666';
  return (
    <div style={{ position: 'fixed', left: 0, top: 0, width: 395, height: 355, background: '#fff', overflow: 'hidden' }}>
      <canvas ref={ref} width={395} height={355} style={{ position: 'absolute', left: 0, top: 0, width: 395, height: 355 }} />
      <div style={{ position: 'absolute', left: 30, top: 19, fontFamily: '"Liberation Sans", sans-serif', fontSize: 16.5, lineHeight: '16.5px', color: '#f4f41c', whiteSpace: 'pre', transform: 'scaleX(0.727)', transformOrigin: '0 0', textShadow: outline }}>GEFS-06Z-UPD: 14-05-2025 16:00</div>
      <Txt x={32} y={79} s={5} t="Temp. 850hPa" />
      <Txt x={32} y={158} s={5} t="Temp. 500hPa" />
      <Txt x={32} y={226} s={5.2} t="Précipitations" />
      <Txt x={10} y={307} s={5} t="(°c)" />
      <Txt x={3} y={314} s={5.3} t="Alt. 162m" />
      <Txt x={377} y={307} s={5} t="(mm)" />
      <div style={{ position: 'absolute', left: 18, top: 321.5, width: 16, height: 3.5, background: '#ff0000' }} />
      <Txt x={39} y={323.5} s={5.4} t="Moyenne des scénarios" />
      <div style={{ position: 'absolute', left: 120, top: 320.5, width: 23, height: 3, background: '#0000ff' }} />
      <Txt x={145} y={322} s={5} t="Run de contrôle" />
      <div style={{ position: 'absolute', left: 120, top: 326, width: 23, height: 3, background: '#000' }} />
      <Txt x={145} y={327.5} s={5.2} t="Run GFS" />
      <Txt x={180} y={330.5} s={5} t="30 Perts." />
      {PERT_NUMS.map((n, i) => (
        <React.Fragment key={n}>
          <Txt x={214.3 + i * 5.87} y={328} s={3.2} t={n} c="#333" />
          <div style={{ position: 'absolute', left: 214 + i * 5.87, top: 331, width: 5, height: 3.5, background: PERT_COLORS[i] }} />
        </React.Fragment>
      ))}
      <Txt x={27} y={334.5} s={6} t="❄" c="#6ab0f0" f='"DejaVu Sans", sans-serif' />
      <Txt x={39} y={334.5} s={5.4} t="Risque neige" />
      <div style={{ position: 'absolute', left: 11.5, top: 339.5, width: 222, height: 30, border: '1px solid #000', boxSizing: 'border-box' }} />
      <Txt x={16} y={344.5} s={6.4} b t="Diagramme des ensembles GEFS sur 384h : 40,6N 22,9E" />
      <Txt x={16} y={351} s={4.95} t="Températures 850hPa et 500hPa (°C) , précipitations (mm)" />
      <Txt x={240} y={339.5} s={5.4} t="Ensemble GEFS du 14/05/2025 - 06Z" />
      <Txt x={240} y={351} s={6.15} b t="Copyright 2025 Meteociel,fr" />
    </div>
  );
}
